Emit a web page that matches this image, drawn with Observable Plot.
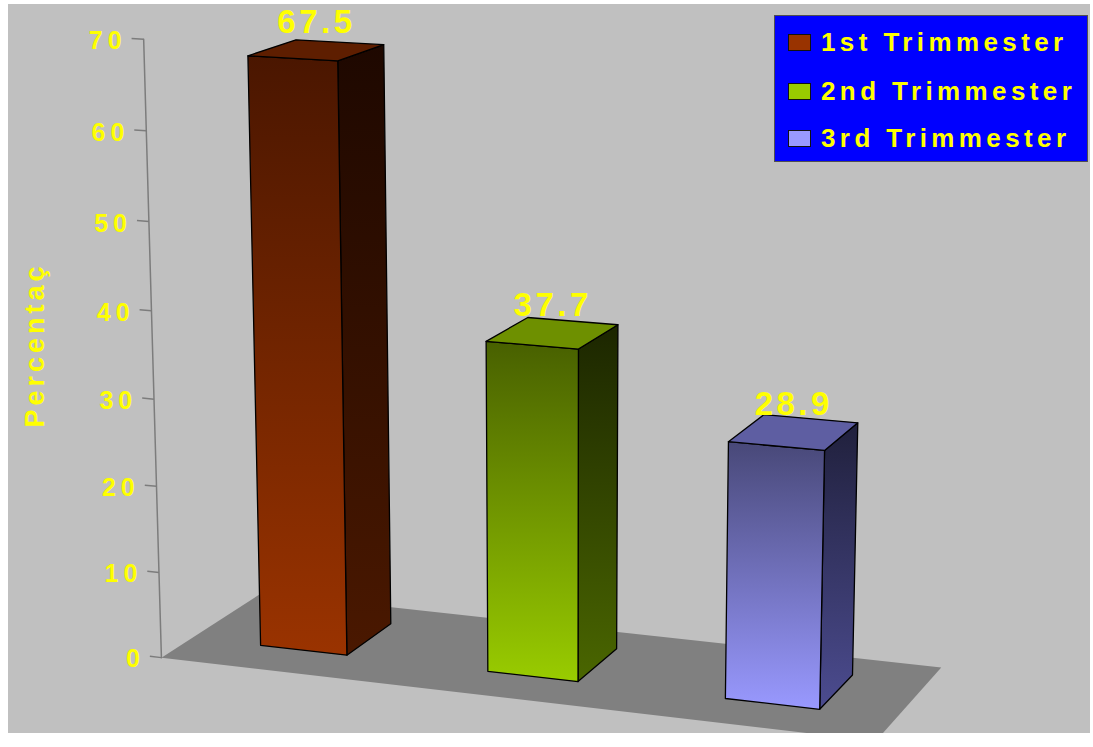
<!DOCTYPE html>
<html><head><meta charset="utf-8">
<script src="https://cdn.jsdelivr.net/npm/d3@7"></script>
<script src="https://cdn.jsdelivr.net/npm/@observablehq/plot@0.6"></script>
<style>
body{margin:0;background:#fff;font-family:"Liberation Sans",Arial,sans-serif;}
#panel{position:absolute;left:8px;top:4px;width:1082px;height:729px;background:#c0c0c0;overflow:hidden;}
#chart{position:absolute;left:0;top:0;}
#legend{position:absolute;left:766px;top:11px;width:314px;height:147px;background:#0000ff;border:1px solid #505050;box-sizing:border-box;}
.item{position:absolute;left:13px;display:flex;align-items:center;height:30px;}
.sw{width:23px;height:17px;border:1.5px solid #111;box-sizing:border-box;margin-right:10px;}
.lab{color:#ffff00;font-weight:bold;font-size:26px;letter-spacing:4.4px;white-space:nowrap;}
g[font-size="33"] text{letter-spacing:3.5px;}
g[font-size="25"] text{letter-spacing:5px;}
g[font-size="27"] text{letter-spacing:4px;}
</style></head>
<body>
<div id="panel"><div id="chart"></div><div id="legend"></div></div>
<script>
// ---- data ----
const categories = ["1st Trimmester", "2nd Trimmester", "3rd Trimmester"];
const values = [67.5, 37.7, 28.9];
const yTicks = [0, 10, 20, 30, 40, 50, 60, 70];
const yTitle = "Percentaç";

// ---- styles ----
const palette = [
  {front: ["#4a1600", "#9a3300"], side: ["#1e0800", "#4a1800"], top: "#5e1e00", swatch: "#993300"},
  {front: ["#486000", "#99cc00"], side: ["#1c2600", "#4a6600"], top: "#6e9000", swatch: "#99cc00"},
  {front: ["#484878", "#9999ff"], side: ["#20203c", "#4c4c90"], top: "#5e5ea2", swatch: "#9999ff"}
];
const W = 1082, H = 729;
// 3D layout (world units: 1 = one percentage point)
const SLOT = 27.8, BAR_W = 10.7, BAR_D = 12.8, BAR_Z0 = 8.1, FLOOR_D = 27, TICK = 1.45;
// camera
const cam = {ex: 183, ey: 129.3, ez: -365, yaw: 20.3, pitch: 15};
const view = {cx: 552, cy: 477, f: 3773};

const th = cam.yaw * Math.PI / 180, ph = cam.pitch * Math.PI / 180;
const R = [Math.cos(th), 0, Math.sin(th)];
const U = [-Math.sin(th) * Math.sin(ph), Math.cos(ph), Math.cos(th) * Math.sin(ph)];
const F = [-Math.sin(th) * Math.cos(ph), -Math.sin(ph), Math.cos(th) * Math.cos(ph)];
function project(X, Y, Z) {
  const p = [X - cam.ex, Y - cam.ey, Z - cam.ez];
  const dot = a => a[0] * p[0] + a[1] * p[1] + a[2] * p[2];
  const zc = dot(F);
  return {u: dot(R) / zc, v: dot(U) / zc};
}

const n = categories.length;
const floor = [[0, 0], [n * SLOT, 0], [n * SLOT, FLOOR_D], [0, FLOOR_D]].map(([x, z]) => project(x, 0, z));

const bars = values.map((val, i) => {
  const x0 = SLOT * (i + 0.5) - BAR_W / 2, x1 = x0 + BAR_W;
  const z0 = BAR_Z0, z1 = BAR_Z0 + BAR_D;
  return {
    i, val, name: categories[i],
    front: [[x0, 0, z0], [x1, 0, z0], [x1, val, z0], [x0, val, z0]].map(p => project(...p)),
    side: [[x1, 0, z0], [x1, 0, z1], [x1, val, z1], [x1, val, z0]].map(p => project(...p)),
    top: [[x0, val, z0], [x1, val, z0], [x1, val, z1], [x0, val, z1]].map(p => project(...p)),
    label: project(SLOT * (i + 0.5), val, BAR_Z0 + BAR_D / 2)
  };
});

const yMax = yTicks[yTicks.length - 1];
const axisPts = [project(0, 0, 0), project(0, yMax, 0)];
const tickData = yTicks.map(t => ({t, a: project(0, t, 0), b: project(-TICK, t, 0)}));
const titlePos = project(-14.5, yMax / 2, 0);

const yellow = "#ffff00";
const marks = [
  Plot.line(floor, {x: "u", y: "v", curve: "linear-closed", fill: "#808080", stroke: "none"}),
  Plot.line(axisPts, {x: "u", y: "v", stroke: "#7c7c7c", strokeWidth: 1.5}),
  Plot.link(tickData, {x1: d => d.a.u, y1: d => d.a.v, x2: d => d.b.u, y2: d => d.b.v, stroke: "#7c7c7c", strokeWidth: 1.5}),
  Plot.text(tickData, {x: d => d.b.u, y: d => d.b.v, text: d => String(d.t), textAnchor: "end", dx: -5, dy: 3, fill: yellow, fontSize: 25, fontWeight: "bold"}),
  Plot.text([titlePos], {x: "u", y: "v", text: () => yTitle, rotate: -90, textAnchor: "middle", fill: yellow, fontSize: 27, fontWeight: "bold"})
];
bars.forEach(b => {
  marks.push(Plot.line(b.side, {x: "u", y: "v", curve: "linear-closed", fill: `url(#side${b.i})`, stroke: "#000", strokeWidth: 1.3, strokeLinejoin: "round"}));
  marks.push(Plot.line(b.front, {x: "u", y: "v", curve: "linear-closed", fill: `url(#front${b.i})`, stroke: "#000", strokeWidth: 1.3, strokeLinejoin: "round"}));
  marks.push(Plot.line(b.top, {x: "u", y: "v", curve: "linear-closed", fill: palette[b.i].top, stroke: "#000", strokeWidth: 1.3, strokeLinejoin: "round"}));
});
marks.push(Plot.text(bars, {x: d => d.label.u, y: d => d.label.v, text: d => d.val.toFixed(1), lineAnchor: "bottom", dy: -17, dx: 0, textAnchor: "middle", fill: yellow, fontSize: 33, fontWeight: "bold"}));

const svg = Plot.plot({
  width: W, height: H,
  marginTop: 0, marginRight: 0, marginBottom: 0, marginLeft: 0,
  x: {type: "linear", domain: [-view.cx / view.f, (W - view.cx) / view.f], range: [0, W], axis: null},
  y: {type: "linear", domain: [-(H - view.cy) / view.f, view.cy / view.f], range: [H, 0], axis: null},
  style: {background: "#c0c0c0", fontFamily: "'Liberation Sans', Arial, sans-serif", overflow: "visible"},
  marks
});

// gradients for the shaded faces
const ns = "http://www.w3.org/2000/svg";
const defs = document.createElementNS(ns, "defs");
function addGrad(id, c1, c2) {
  const g = document.createElementNS(ns, "linearGradient");
  g.setAttribute("id", id); g.setAttribute("x1", "0"); g.setAttribute("y1", "0"); g.setAttribute("x2", "0"); g.setAttribute("y2", "1");
  [[0, c1], [1, c2]].forEach(([o, c]) => {
    const s = document.createElementNS(ns, "stop");
    s.setAttribute("offset", o); s.setAttribute("stop-color", c);
    g.appendChild(s);
  });
  defs.appendChild(g);
}
palette.forEach((p, i) => { addGrad(`front${i}`, ...p.front); addGrad(`side${i}`, ...p.side); });
svg.insertBefore(defs, svg.firstChild);
document.getElementById("chart").appendChild(svg);

// legend
const legend = d3.select("#legend");
const rowTops = [11, 60, 107];
categories.forEach((c, i) => {
  const item = legend.append("div").attr("class", "item").style("top", rowTops[i] + "px");
  item.append("div").attr("class", "sw").style("background", palette[i].swatch);
  item.append("div").attr("class", "lab").text(c);
});
</script>
</body></html>
